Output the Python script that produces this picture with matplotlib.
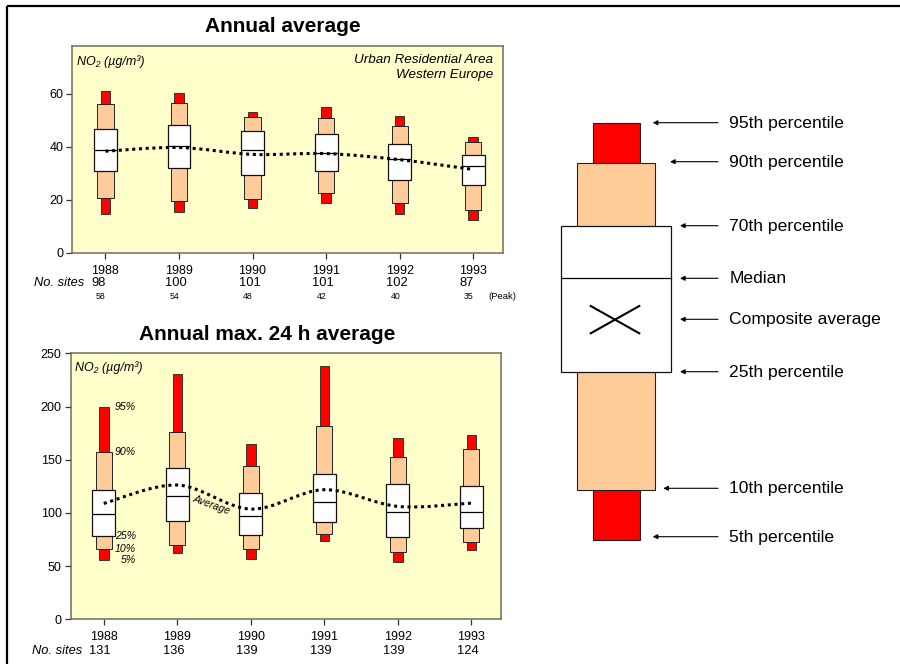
import matplotlib
matplotlib.use("Agg")
import matplotlib.pyplot as plt
from matplotlib.path import Path
from matplotlib.patches import PathPatch, Rectangle
import numpy as np

plt.rcParams['font.family'] = ['Liberation Sans', 'DejaVu Sans']

# ---------------- data ----------------
years = [1988, 1989, 1990, 1991, 1992, 1993]
year_labels = ['1988', '1989', '1990', '1991', '1992', '1993']

# Annual average NO2 (ug/m3)
avg_p05 = [14.6, 15.2, 16.7, 18.6, 14.6, 12.4]
avg_p10 = [20.7, 19.4, 20.3, 22.5, 18.6, 16.3]
avg_p25 = [30.7, 32.0, 29.5, 30.7, 27.6, 25.6]
avg_p50 = [38.9, 40.4, 38.9, 37.6, 35.3, 32.9]
avg_p70 = [46.5, 48.3, 46.0, 44.9, 40.9, 37.0]
avg_p90 = [56.2, 56.5, 51.1, 50.9, 47.9, 41.9]
avg_p95 = [61.1, 60.1, 53.1, 55.1, 51.7, 43.8]
avg_mean = [38.3, 39.7, 37.1, 37.4, 35.1, 31.4]
avg_sites = [98, 100, 101, 101, 102, 87]
avg_peak = [58, 54, 48, 42, 40, 35]

# Annual maximum 24 h average NO2 (ug/m3)
max_p05 = [56.2, 62.1, 57.1, 73.8, 54.3, 65.3]
max_p10 = [66.2, 69.7, 66.2, 80.4, 63.4, 72.8]
max_p25 = [78.5, 92.3, 79.4, 91.3, 77.5, 85.7]
max_p50 = [98.9, 116.1, 97.3, 110.2, 101.1, 100.8]
max_p70 = [121.5, 142.5, 119.0, 136.9, 127.1, 125.2]
max_p90 = [157.3, 176.1, 144.1, 182.0, 152.9, 160.1]
max_p95 = [199.6, 230.1, 164.8, 237.6, 170.1, 173.3]
max_mean = [108.9, 126.2, 103.6, 121.8, 106.1, 109.2]
max_sites = [131, 136, 139, 139, 139, 124]

RED = '#ff0000'
PEACH = '#ffcc99'
BG = '#ffffcc'
SPINE = '#6e6e5a'

fig = plt.figure(figsize=(9.0, 6.64), dpi=100)

# overlay in pixel units for the frame and the key diagram
ov = fig.add_axes([0, 0, 1, 1])
ov.set_xlim(0, 900)
ov.set_ylim(664, 0)
ov.axis('off')
ov.plot([7, 900], [6, 6], color='black', lw=1.6, solid_capstyle='butt')
ov.plot([7, 7], [6, 664], color='black', lw=1.6, solid_capstyle='butt')


def smooth_path(xs, ys):
    """Catmull-Rom curve through the points as cubic Bezier segments."""
    pts = np.column_stack([xs, ys]).astype(float)
    ext = np.vstack([pts[0], pts, pts[-1]])
    verts = [pts[0]]
    codes = [Path.MOVETO]
    for i in range(len(pts) - 1):
        p0, p1, p2, p3 = ext[i], ext[i + 1], ext[i + 2], ext[i + 3]
        c1 = p1 + (p2 - p0) / 6.0
        c2 = p2 - (p3 - p1) / 6.0
        verts += [c1, c2, p2]
        codes += [Path.CURVE4] * 3
    return Path(verts, codes)


def draw_panel(ax, p05, p10, p25, p50, p70, p90, p95, mean, ymax, yticks):
    ax.set_facecolor(BG)
    x = np.array(years, dtype=float)
    p05, p10, p25, p50, p70, p90, p95 = map(np.array, (p05, p10, p25, p50, p70, p90, p95))
    ax.bar(x, p95 - p05, bottom=p05, width=0.13, color=RED, edgecolor='#222222',
           linewidth=0.6, zorder=2)
    ax.bar(x, p90 - p10, bottom=p10, width=0.22, color=PEACH, edgecolor='#222222',
           linewidth=0.7, zorder=3)
    ax.bar(x, p70 - p25, bottom=p25, width=0.31, color='white', edgecolor='#111111',
           linewidth=0.9, zorder=4)
    ax.hlines(p50, x - 0.155, x + 0.155, color='black', lw=0.9, zorder=5)
    ax.add_patch(PathPatch(smooth_path(x, mean), fill=False, edgecolor='black',
                           lw=2.2, linestyle=(0, (1, 1.2)), zorder=6))
    ax.set_xlim(1987.55, 1993.4)
    ax.set_ylim(0, ymax)
    ax.set_yticks(yticks)
    ax.set_xticks(years)
    ax.set_xticklabels(year_labels)
    for s in ('top', 'right', 'left', 'bottom'):
        ax.spines[s].set_color(SPINE)
        ax.spines[s].set_linewidth(1.1)
    ax.tick_params(axis='both', direction='out', length=4.5, width=0.9,
                   color='#333333', labelsize=9)
    ax.tick_params(axis='x', pad=4.2)
    ax.tick_params(axis='y', pad=2)


# ---------------- annual average ----------------
ax1 = fig.add_axes([72.3 / 900, 1 - 252.7 / 664, 430.4 / 900, 206.7 / 664])
draw_panel(ax1, avg_p05, avg_p10, avg_p25, avg_p50, avg_p70, avg_p90, avg_p95,
           avg_mean, 78, [0, 20, 40, 60])
ax1.text(0.012, 0.927, 'NO₂ (µg/m³)', transform=ax1.transAxes, fontsize=9,
         style='italic', ha='left', va='center')
ax1.text(0.977, 0.932, 'Urban Residential Area', transform=ax1.transAxes,
         fontsize=9.7, style='italic', ha='right', va='center')
ax1.text(0.977, 0.858, 'Western Europe', transform=ax1.transAxes,
         fontsize=9.7, style='italic', ha='right', va='center')
tr1 = ax1.get_xaxis_transform()
ax1.text(1988 - 0.29, -0.145, 'No. sites', transform=tr1, fontsize=9.3,
         style='italic', ha='right', va='center')
for yr, n in zip(years, avg_sites):
    ax1.text(yr - 0.19, -0.145, str(n), transform=tr1, fontsize=9.3,
             ha='left', va='center')
for yr, n in zip(years, avg_peak):
    ax1.text(yr - 0.06, -0.212, str(n), transform=tr1, fontsize=6.3,
             ha='center', va='center')
ax1.text(1993.2, -0.212, '(Peak)', transform=tr1, fontsize=6.8,
         ha='left', va='center', clip_on=False)
fig.text(282.5 / 900, 1 - 27 / 664, 'Annual average', fontsize=15,
         fontweight='bold', ha='center', va='center')

# ---------------- annual max. 24 h average ----------------
ax2 = fig.add_axes([70.7 / 900, 1 - 619.3 / 664, 430.0 / 900, 266.0 / 664])
draw_panel(ax2, max_p05, max_p10, max_p25, max_p50, max_p70, max_p90, max_p95,
           max_mean, 250, [0, 50, 100, 150, 200, 250])
ax2.text(0.01, 0.947, 'NO₂ (µg/m³)', transform=ax2.transAxes, fontsize=9,
         style='italic', ha='left', va='center')
pct_labels = ['95%', '90%', '25%', '10%', '5%']
pct_values = [max_p95[0], max_p90[0], max_p25[0], max_p10[0], max_p05[0]]
for lab, v in zip(pct_labels, pct_values):
    ax2.text(1988.44, v, lab, fontsize=7.6, style='italic', ha='right',
             va='center', zorder=7)
ax2.text(1989.46, 107.0, 'Average', fontsize=7.6, style='italic', ha='center',
         va='center', rotation=-20, zorder=7)
tr2 = ax2.get_xaxis_transform()
ax2.text(1988 - 0.29, -0.118, 'No. sites', transform=tr2, fontsize=9.3,
         style='italic', ha='right', va='center')
for yr, n in zip(years, max_sites):
    ax2.text(yr - 0.2, -0.118, str(n), transform=tr2, fontsize=9.3,
             ha='left', va='center')
fig.text(266.7 / 900, 1 - 334 / 664, 'Annual max. 24 h average', fontsize=15,
         fontweight='bold', ha='center', va='center')

# ---------------- key diagram ----------------
ov.add_patch(Rectangle((593.3, 122.7), 47, 40.3, facecolor=RED, edgecolor='#222222', lw=0.8))
ov.add_patch(Rectangle((593.3, 490), 47, 50, facecolor=RED, edgecolor='#222222', lw=0.8))
ov.add_patch(Rectangle((576.7, 163), 78.6, 327, facecolor=PEACH, edgecolor='#222222', lw=0.8))
ov.add_patch(Rectangle((561, 225.7), 110, 146.6, facecolor='white', edgecolor='#111111', lw=0.9))
ov.plot([561, 671], [278.3, 278.3], color='black', lw=0.9)
ov.plot([590.7, 639.3], [306, 333.3], color='black', lw=1.5)
ov.plot([590.7, 639.3], [333.3, 306], color='black', lw=1.5)

key_labels = ['95th percentile', '90th percentile', '70th percentile', 'Median',
              'Composite average', '25th percentile', '10th percentile', '5th percentile']
key_y = [122.7, 161.7, 225.7, 278.3, 319.3, 371.7, 488.3, 536.7]
key_tip = [652.7, 670, 680, 680, 680, 680, 663.3, 652.7]
for lab, y, tip in zip(key_labels, key_y, key_tip):
    ov.annotate('', xy=(tip, y), xytext=(718, y),
                arrowprops=dict(arrowstyle='-|>', color='black', lw=0.8,
                                mutation_scale=7, shrinkA=0, shrinkB=0))
    ov.text(729.3, y + 5.0, lab, fontsize=12.6, ha='left', va='baseline')

fig.savefig('out.png', dpi=100)
